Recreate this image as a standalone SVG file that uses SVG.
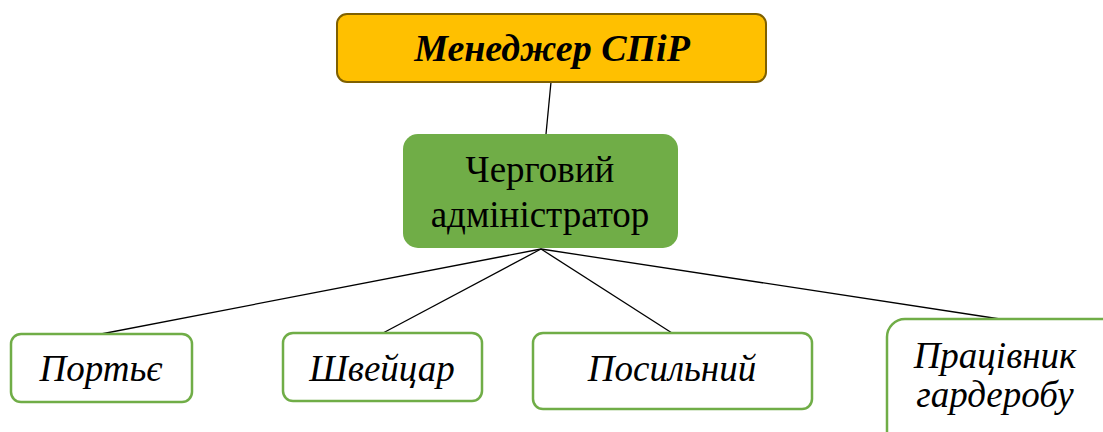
<svg xmlns="http://www.w3.org/2000/svg" width="1103" height="432" viewBox="0 0 1103 432">
  <style>
    .txt { font-family: "Liberation Serif", "Times New Roman", serif; fill: #000; text-anchor: middle; }
    .it { font-style: italic; font-size: 37px; }
    .leaf { fill: #ffffff; stroke: #70AD47; stroke-width: 2.5; }
    .conn { stroke: #000; stroke-width: 1.3; fill: none; }
  </style>
  <rect width="1103" height="432" fill="#ffffff"/>

  <g id="connectors">
    <line class="conn" x1="551" y1="82" x2="546" y2="134"/>
    <line class="conn" x1="541" y1="249" x2="101" y2="334"/>
    <line class="conn" x1="541" y1="249" x2="383" y2="333"/>
    <line class="conn" x1="541" y1="249" x2="672" y2="333"/>
    <line class="conn" x1="541" y1="249" x2="1000" y2="319"/>
  </g>

  <g id="manager">
    <rect x="337" y="14" width="429" height="68" rx="10" fill="#FFC000" stroke="#7F6000" stroke-width="2"/>
    <text class="txt" x="552" y="61" font-size="38" font-weight="bold" font-style="italic">Менеджер СПіР</text>
  </g>

  <g id="duty-admin">
    <rect x="403" y="134" width="275" height="114" rx="15" fill="#70AD47"/>
    <text class="txt" x="540" y="182" font-size="37">Черговий</text>
    <text class="txt" x="540" y="227" font-size="37">адміністратор</text>
  </g>

  <g id="porter">
    <rect class="leaf" x="11" y="334" width="181" height="68" rx="10"/>
    <text class="txt it" x="101" y="381">Портьє</text>
  </g>

  <g id="doorman">
    <rect class="leaf" x="283" y="333" width="199" height="68" rx="10"/>
    <text class="txt it" x="382" y="381">Швейцар</text>
  </g>

  <g id="messenger">
    <rect class="leaf" x="533" y="333" width="279" height="76" rx="10"/>
    <text class="txt it" x="672" y="381">Посильний</text>
  </g>

  <g id="cloakroom">
    <rect class="leaf" x="887" y="319" width="240" height="130" rx="18"/>
    <text class="txt it" x="995" y="368">Працівник</text>
    <text class="txt it" x="995" y="407">гардеробу</text>
  </g>
</svg>
